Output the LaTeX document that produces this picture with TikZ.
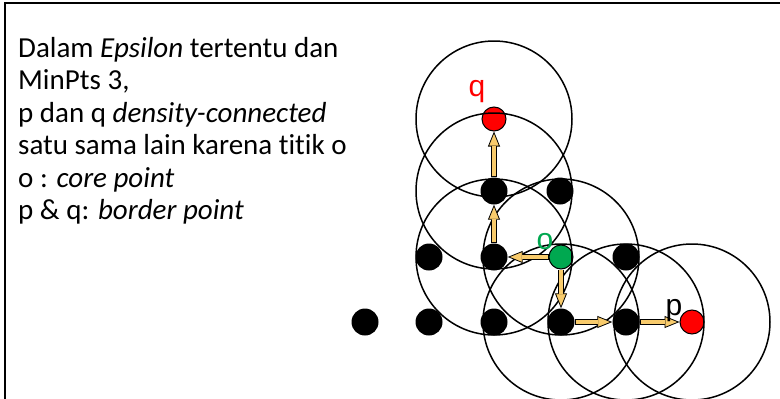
\documentclass[tikz,border=0pt]{standalone}
\usepackage{fontspec}
\setmainfont[Ligatures=NoCommon]{Carlito}
\newfontfamily\labfont{Liberation Sans}
\usetikzlibrary{arrows.meta}
\definecolor{arrowy}{RGB}{248,203,108}
\definecolor{ogreen}{RGB}{0,168,80}
\definecolor{pred}{RGB}{255,0,0}
\begin{document}
\begin{tikzpicture}[x=1pt,y=-1pt,
  dot/.style={circle,fill=black,minimum size=27pt,inner sep=0pt},
  redpt/.style={circle,fill=pred,draw=black,line width=1pt,minimum size=24pt,inner sep=0pt},
  greenpt/.style={circle,fill=ogreen,draw=black,line width=1pt,minimum size=24pt,inner sep=0pt},
  eps/.style={draw=black,line width=1.5pt},
  arrowout/.style={draw=black,line width=6pt,-{Triangle[length=15pt,width=12pt,fill=arrowy,line width=0.8pt]}},
  arrowin/.style={draw=arrowy,line width=4.2pt,shorten >=14.3pt,shorten <=0.9pt},
  txt/.style={anchor=base west,inner sep=0pt,font=\fontsize{29}{32.5}\selectfont},
  lab/.style={anchor=base,inner sep=0pt,font=\labfont\fontsize{30}{32}\selectfont}]
\useasboundingbox (0,0) rectangle (780,399);
% frame (left and top edges visible)
\draw[line width=2pt] (5,399) -- (5,3) -- (780,3);
% text
\node[txt] (t1) at (18,57) {Dalam \textit{Epsilon} tertentu dan};
\node[txt] (t2) at (18,89.5) {MinPts 3,};
\node[txt] (t3) at (18,122) {p dan q \textit{density-connected}};
\node[txt] (t4) at (18,154.5) {satu sama lain karena titik o};
\node[txt] (t5) at (18,187) {o : \textit{core point}};
\node[txt] (t6) at (18,219.5) {p \& q: \textit{border point}};
% points
\node[dot] (d1) at (365,322) {};
\node[dot] (d2) at (429,322) {};
\node[dot] (d3) at (494,322) {};
\node[dot] (d4) at (561,322) {};
\node[dot] (d5) at (626,322) {};
\node[redpt] (p) at (692,322) {};
\node[dot] (e1) at (429,257) {};
\node[dot] (e2) at (494,257) {};
\node[greenpt] (o) at (561,257) {};
\node[dot] (e4) at (626,257) {};
\node[dot] (f1) at (494,191) {};
\node[dot] (f2) at (560,191) {};
\node[redpt] (q) at (494,119) {};
% epsilon neighbourhoods
\foreach \c in {q,f1,e2,o,d4,d5,p}
  \draw[eps] (\c.center) circle[radius=78pt];
% arrows
\foreach \a/\b in {o/e2,e2/f1,f1/q,o/d4,d4/d5,d5/p}{
  \draw[arrowout] (\a) -- (\b);
  \draw[arrowin] (\a) -- (\b);
}
% labels
\node[lab,text=pred] (ql) at (477,96) {q};
\node[lab,text=ogreen] (ol) at (545,249) {o};
\node[lab,text=black] (pl) at (674,315) {p};
\end{tikzpicture}
\end{document}
